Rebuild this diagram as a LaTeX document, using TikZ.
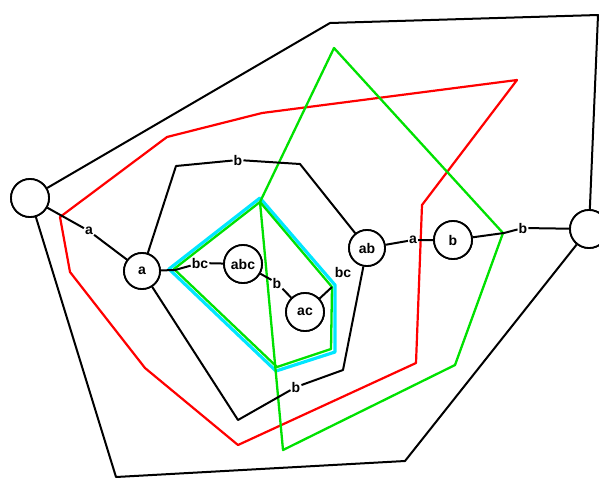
\documentclass[tikz,border=0pt]{standalone}
\usepackage{fontspec}
\setmainfont{Liberation Sans}
\begin{document}
\begin{tikzpicture}[x=1pt,y=-1pt,
  blk/.style={draw=black,line width=2pt,line join=round},
  vtx/.style={circle,draw=black,line width=1.8pt,fill=white,inner sep=0pt,minimum size=#1,font=\fontsize{14}{14}\selectfont\bfseries},
  vtx/.default=36pt,
  lab/.style={fill=white,inner sep=1pt,font=\fontsize{14}{14}\selectfont\bfseries},
  redl/.style={draw={rgb,255:red,255;green,0;blue,0},line width=2.2pt,line join=round},
  grnl/.style={draw={rgb,255:red,0;green,225;blue,0},line width=2.3pt,line join=round},
  cyl/.style={draw={rgb,255:red,0;green,230;blue,255},line width=3.2pt,line join=round}]
\useasboundingbox (0,0) rectangle (599,480);
% vertices
\node[vtx=38pt] (L) at (30,198) {};
\node[vtx=38pt] (R) at (589,229) {};
\node[vtx=36pt] (a) at (142,271) {a};
\node[vtx=38pt] (abc) at (243,264) {abc};
\node[vtx=38pt] (ac) at (305,312) {ac};
\node[vtx=36pt] (ab) at (367,248) {ab};
\node[vtx=38pt] (b) at (453,240) {b};
% corner coordinates
\coordinate (o1) at (330,23);
\coordinate (o2) at (598,15);
\coordinate (o3) at (116,477);
\coordinate (o4) at (405,461);
\coordinate (h1) at (176,166);
\coordinate (h2) at (300,164);
\coordinate (h3) at (343,370);
\coordinate (h4) at (238,420);
\coordinate (c1) at (175,270);
\coordinate (c2) at (332,287);
\coordinate (g1) at (504,233);
% labels
\node[lab] (la) at (89,231) {a};
\node[lab] (lb1) at (238,160) {b};
\node[lab] (lb2) at (296,387) {b};
\node[lab] (lbc) at (200,263) {bc};
\node[lab] (lb3) at (277,283) {b};
\node[lab] (lbc2) at (343,272) {bc};
\node[lab] (la2) at (413,240) {a};
\node[lab] (lb4) at (523,228) {b};
% red
\draw[redl] (60,217) -- (167,137) -- (262,113) -- (517,80) -- (422,205) -- (416,363) -- (238,445) -- (145,368) -- (70,272) -- cycle;
% cyan and green
\draw[cyl] (260,198) -- (169,269) -- (276,371) -- (335,352) -- (335,285) -- cycle;
\draw[grnl] (260,202) -- (174,269) -- (277,367) -- (331,349) -- (332,287) -- cycle;
\draw[grnl] (334,48) -- (503,233) -- (455,365) -- (283,450) -- (260,202) -- cycle;
% black edges
\draw[blk] (L) -- (o1) -- (o2) -- (R);
\draw[blk] (L) -- (o3) -- (o4) -- (R);
\draw[blk] (L) -- (la) -- (a);
\draw[blk] (a) -- (h1) -- (lb1) -- (h2) -- (ab);
\draw[blk] (ab) -- (h3) -- (lb2) -- (h4) -- (a);
\draw[blk] (a) -- (c1) -- (lbc) -- (abc);
\draw[blk] (abc) -- (lb3) -- (ac);
\draw[blk] (ac) -- (c2);
\draw[blk] (ab) -- (la2) -- (b);
\draw[blk] (b) -- (g1) -- (lb4) -- (R);
% redraw nodes on top
\node[vtx=38pt] at (L) {};
\node[vtx=38pt] at (R) {};
\node[vtx=36pt] at (a) {a};
\node[vtx=38pt] at (abc) {abc};
\node[vtx=38pt] at (ac) {ac};
\node[vtx=36pt] at (ab) {ab};
\node[vtx=38pt] at (b) {b};
\node[lab] at (lb1) {b};
\node[lab] at (lb2) {b};
\node[lab] at (lbc2) {bc};
\end{tikzpicture}
\end{document}
